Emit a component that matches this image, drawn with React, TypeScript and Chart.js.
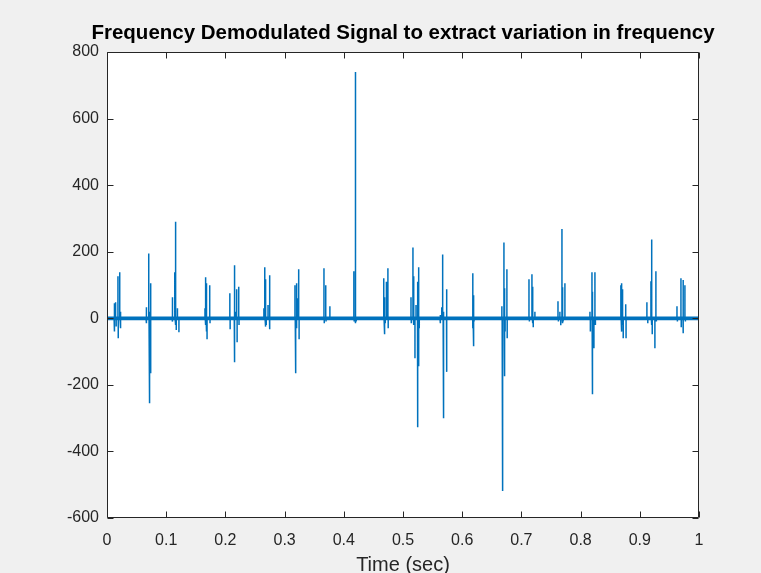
import React, { useEffect, useRef } from "react";
import { Chart, registerables } from "chart.js";

Chart.register(...registerables);

const TITLE = "Frequency Demodulated Signal to extract variation in frequency";
const X_LABEL = "Time (sec)";
const X_TICKS = [0, 0.1, 0.2, 0.3, 0.4, 0.5, 0.6, 0.7, 0.8, 0.9, 1];
const Y_TICKS = [-600, -400, -200, 0, 200, 400, 600, 800];

// Times (sec) of the spikes in the demodulated signal, one burst per line
const spikeTimes = [
  0.012, 0.013, 0.0145, 0.0155, 0.0185, 0.019, 0.0215, 0.022, 0.0235,
  0.066, 0.067, 0.0705, 0.071, 0.0725, 0.0735, 0.074,
  0.110, 0.111, 0.1145, 0.115, 0.1165, 0.117, 0.119, 0.1215,
  0.1655, 0.166, 0.167, 0.1675, 0.1685, 0.169, 0.1735, 0.174,
  0.2075, 0.208, 0.215, 0.2158, 0.2175, 0.219, 0.2198, 0.2225, 0.223,
  0.265, 0.2665, 0.267, 0.2685, 0.269, 0.272, 0.2745, 0.275,
  0.3175, 0.318, 0.3192, 0.320, 0.3205, 0.322, 0.3238, 0.3245,
  0.3665, 0.367, 0.3695, 0.370, 0.3765, 0.377,
  0.417, 0.4175, 0.419, 0.4195, 0.4205, 0.421,
  0.4675, 0.468, 0.4695, 0.470, 0.472, 0.4745, 0.475,
  0.5135, 0.514, 0.5168, 0.5175, 0.5185, 0.5202, 0.522, 0.5245, 0.525, 0.526, 0.5268, 0.5275,
  0.5625, 0.5635, 0.5655, 0.567, 0.5678, 0.569, 0.5735, 0.574,
  0.6178, 0.618, 0.6185, 0.6198, 0.620,
  0.667, 0.6675, 0.6688, 0.6705, 0.671, 0.672, 0.6725, 0.6755, 0.676,
  0.7128, 0.7135, 0.7178, 0.7185, 0.7195, 0.720, 0.7228,
  0.7618, 0.7625, 0.765, 0.7665, 0.7685, 0.769, 0.770, 0.7705, 0.7735, 0.774,
  0.8158, 0.8165, 0.8192, 0.8195, 0.820, 0.8205, 0.8225, 0.8242, 0.825,
  0.868, 0.8685, 0.8698, 0.870, 0.8715, 0.872, 0.8762, 0.8768,
  0.912, 0.9135, 0.9188, 0.9195, 0.9205, 0.921, 0.9255, 0.9272, 0.928,
  0.9628, 0.9635, 0.9695, 0.970, 0.973, 0.9735, 0.9762, 0.977,
];

// Spike amplitudes, matching spikeTimes
const spikeValues = [
  45, -40, 48, -25, 126, -60, 138, -30, 20,
  33, -15, 195, -255, 20, 105, -165,
  63, -10, 138, -20, 290, -35, 30, -42,
  30, -20, 123, -40, 105, -63, 99, -15,
  75, -33, 159, -132, 20, 87, -72, 95, -20,
  30, 153, -25, 117, -20, 40, 129, -33,
  99, -20, -165, 105, -30, 60, 147, -63,
  150, -15, 99, -10, 36, -5,
  141, -10, 740, -15, 110, -10,
  120, -48, 63, -15, 110, 150, -30,
  63, -15, 213, -20, 126, -120, 40, 110, -327, -144, 153, -30,
  10, -15, 33, 192, -300, 20, 87, -161,
  -30, 135, -84, 69, -10,
  36, -20, -519, 228, -174, 90, -40, 147, -60,
  117, -10, 132, -15, 95, -27, 20,
  51, -10, 20, -21, 268, -15, 93, -10, 105, -5,
  20, -40, 138, -228, 80, -100, -90, 138, -20,
  99, -40, 105, -20, 87, -60, 42, -60,
  48, -15, 111, -20, 237, -48, -90, 141, -10,
  36, -10, 120, -27, 115, -45, 99, -10,
];

// Level the signal rests at between spikes (dense low-level noise => thick band)
const restLevel = 0;
const timeRange = [0, 1];

const LINE_COLOR = "#0072BD";
const AXIS_COLOR = "#262626";
const FONT = '"Liberation Sans", Arial, Helvetica, sans-serif';

const framePlugin = {
  id: "matlabFrame",
  beforeDraw(chart: any) {
    const { ctx, width, height, chartArea } = chart;
    ctx.save();
    ctx.fillStyle = "#f0f0f0";
    ctx.fillRect(0, 0, width, height);
    ctx.fillStyle = "#ffffff";
    ctx.fillRect(
      chartArea.left,
      chartArea.top,
      chartArea.right - chartArea.left,
      chartArea.bottom - chartArea.top
    );
    ctx.restore();
  },
  afterDatasetsDraw(chart: any) {
    const { ctx, chartArea } = chart;
    const { left, right, top, bottom } = chartArea;
    const xs = chart.scales.x;
    const ys = chart.scales.y;
    const tl = 6;
    ctx.save();
    ctx.strokeStyle = AXIS_COLOR;
    ctx.lineWidth = 1;
    ctx.beginPath();
    const L = Math.round(left) + 0.5;
    const R = Math.round(right) - 0.5;
    const T = Math.round(top) + 0.5;
    const B = Math.round(bottom) - 0.5;
    ctx.moveTo(L, T);
    ctx.lineTo(R, T);
    ctx.lineTo(R, B);
    ctx.lineTo(L, B);
    ctx.closePath();
    X_TICKS.forEach((v) => {
      const px = Math.round(xs.getPixelForValue(v)) + 0.5;
      ctx.moveTo(px, B);
      ctx.lineTo(px, B - tl);
      ctx.moveTo(px, T);
      ctx.lineTo(px, T + tl);
    });
    Y_TICKS.forEach((v) => {
      const py = Math.round(ys.getPixelForValue(v)) + 0.5;
      ctx.moveTo(L, py);
      ctx.lineTo(L + tl, py);
      ctx.moveTo(R, py);
      ctx.lineTo(R - tl, py);
    });
    ctx.stroke();
    ctx.restore();
  },
  afterDraw(chart: any) {
    const { ctx, chartArea } = chart;
    ctx.save();
    ctx.fillStyle = "#000000";
    ctx.font = `bold 20.5px ${FONT}`;
    ctx.textAlign = "center";
    ctx.textBaseline = "alphabetic";
    ctx.fillText(TITLE, (chartArea.left + chartArea.right) / 2, 39);
    ctx.restore();
  },
};

export default function App() {
  const canvasRef = useRef<HTMLCanvasElement | null>(null);

  useEffect(() => {
    const canvas = canvasRef.current;
    if (!canvas) return;

    // Each spike is a vertical stroke rising from and returning to the rest level
    const signal: { x: number; y: number }[] = [{ x: timeRange[0], y: restLevel }];
    spikeTimes.forEach((t, i) => {
      signal.push({ x: t, y: restLevel });
      signal.push({ x: t, y: spikeValues[i] });
      signal.push({ x: t, y: restLevel });
    });
    signal.push({ x: timeRange[1], y: restLevel });
    const baseline = timeRange.map((t) => ({ x: t, y: restLevel }));

    const chart = new Chart(canvas, {
      type: "line",
      data: {
        datasets: [
          {
            label: "baseline",
            data: baseline,
            borderColor: LINE_COLOR,
            borderWidth: 3.8,
            pointRadius: 0,
            tension: 0,
          },
          {
            label: "signal",
            data: signal,
            borderColor: LINE_COLOR,
            borderWidth: 1.5,
            pointRadius: 0,
            tension: 0,
          },
        ],
      },
      options: {
        animation: false,
        responsive: false,
        maintainAspectRatio: false,
        parsing: false as any,
        normalized: true,
        layout: { padding: { top: 52, right: 62, left: 0, bottom: 0 } },
        plugins: {
          legend: { display: false },
          title: { display: false },
          tooltip: { enabled: false },
        },
        scales: {
          x: {
            type: "linear",
            min: 0,
            max: 1,
            grid: { display: false, drawTicks: false },
            border: { display: false },
            afterBuildTicks: (scale: any) => {
              scale.ticks = X_TICKS.map((v) => ({ value: v }));
            },
            afterFit: (scale: any) => {
              scale.height = 55;
            },
            ticks: {
              autoSkip: false,
              maxRotation: 0,
              padding: 13,
              color: AXIS_COLOR,
              font: { family: FONT, size: 16 },
              callback: (v: any) => String(v),
            },
            title: {
              display: true,
              text: X_LABEL,
              color: AXIS_COLOR,
              font: { family: FONT, size: 20 },
              padding: { top: 0, bottom: -4 },
            },
          },
          y: {
            type: "linear",
            min: -600,
            max: 800,
            grid: { display: false, drawTicks: false },
            border: { display: false },
            afterBuildTicks: (scale: any) => {
              scale.ticks = Y_TICKS.map((v) => ({ value: v }));
            },
            afterFit: (scale: any) => {
              scale.width = 107;
            },
            ticks: {
              autoSkip: false,
              padding: 8,
              color: AXIS_COLOR,
              font: { family: FONT, size: 16 },
              callback: (v: any) => String(v),
            },
          },
        },
      },
      plugins: [framePlugin],
    });

    return () => {
      chart.destroy();
    };
  }, []);

  return (
    <div style={{ position: "fixed", left: 0, top: 0, width: 761, height: 573 }}>
      <canvas ref={canvasRef} width={761} height={573} style={{ display: "block" }} />
    </div>
  );
}
